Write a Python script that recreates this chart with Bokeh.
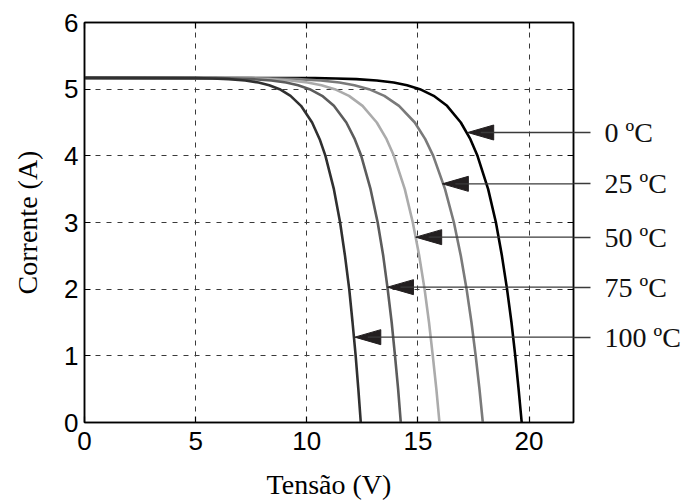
from bokeh.plotting import figure
from bokeh.models import Range1d, LinearAxis, FixedTicker, Arrow
from bokeh.embed import file_html
from bokeh.resources import INLINE

# ---- data ----
temps = ["0 ºC", "25 ºC", "50 ºC", "75 ºC", "100 ºC"]
current = [5.17, 5.165, 5.16, 5.15, 5.13, 5.10, 5.06, 5.00, 4.90, 4.75, 4.50,
           4.25, 4.00, 3.50, 3.00, 2.50, 2.00, 1.50, 1.00, 0.50, 0.00]
v_0 = [0, 10.37, 11.30, 12.23, 13.15, 13.91, 14.51, 15.09, 15.71, 16.31, 16.93,
       17.36, 17.68, 18.16, 18.51, 18.78, 19.01, 19.21, 19.38, 19.53, 19.67]
v_25 = [0, 7.51, 8.55, 9.59, 10.63, 11.47, 12.14, 12.80, 13.49, 14.15, 14.86,
        15.33, 15.69, 16.22, 16.62, 16.93, 17.19, 17.41, 17.60, 17.77, 17.92]
v_50 = [0, 6.39, 7.35, 8.30, 9.26, 10.03, 10.66, 11.26, 11.90, 12.51, 13.15,
        13.59, 13.92, 14.41, 14.77, 15.06, 15.30, 15.50, 15.67, 15.83, 15.97]
v_75 = [0, 5.90, 6.73, 7.56, 8.40, 9.07, 9.61, 10.13, 10.69, 11.22, 11.78,
        12.16, 12.45, 12.87, 13.19, 13.44, 13.64, 13.82, 13.97, 14.11, 14.23]
v_100 = [0, 5.00, 5.74, 6.49, 7.23, 7.83, 8.31, 8.78, 9.27, 9.74, 10.24,
         10.58, 10.84, 11.22, 11.50, 11.72, 11.91, 12.06, 12.20, 12.32, 12.43]
voltages = [v_0, v_25, v_50, v_75, v_100]
colors = ["#000000", "#7a7a7a", "#ababab", "#5c5c5c", "#303030"]

# annotation arrows: current level and voltage at arrow tip
arrow_i = [4.35, 3.58, 2.78, 2.03, 1.28]
arrow_v = [17.24, 16.10, 14.90, 13.63, 12.16]

x_ticks = [0, 5, 10, 15, 20]
y_ticks = [0, 1, 2, 3, 4, 5, 6]

W, H = 696, 503
FL, FR, FT, FB = 84, 573, 22, 422
p = figure(width=W, height=H, output_backend="svg", toolbar_location=None,
           x_range=Range1d(0, 22), y_range=Range1d(0, 6),
           min_border_left=FL, min_border_right=W - FR,
           min_border_top=FT, min_border_bottom=H - FB)
p.background_fill_color = "white"
p.border_fill_color = "white"
p.outline_line_color = "black"
p.outline_line_width = 1.5

for ax, ticks in ((p.xaxis[0], x_ticks), (p.yaxis[0], y_ticks)):
    ax.ticker = FixedTicker(ticks=ticks)
    ax.major_label_text_font = "Liberation Sans"
    ax.major_label_text_font_size = "26px"
    ax.major_label_text_color = "black"
    ax.axis_label_text_font = "Liberation Serif"
    ax.axis_label_text_font_size = "28px"
    ax.axis_label_text_font_style = "normal"
    ax.axis_label_text_color = "black"
    ax.major_tick_in = 6
    ax.major_tick_out = 0
    ax.minor_tick_line_color = None
    ax.axis_line_width = 1.5
    ax.major_tick_line_width = 1.2

p.xaxis[0].axis_label = "Tensão (V)"
p.yaxis[0].axis_label = "Corrente (A)"
p.xaxis[0].major_label_standoff = 9
p.yaxis[0].major_label_standoff = 6
p.xaxis[0].axis_label_standoff = 16
p.yaxis[0].axis_label_standoff = 18

# top axis: only inward ticks
top = LinearAxis(ticker=FixedTicker(ticks=[], minor_ticks=x_ticks),
                 minor_tick_in=6, minor_tick_out=0, minor_tick_line_width=1.2,
                 major_tick_line_color=None, axis_line_width=1.5)
p.add_layout(top, "above")

# right axis: inward grid ticks (minor) + arrow lines leaving the frame with their labels (major)
right = LinearAxis(ticker=FixedTicker(ticks=arrow_i, minor_ticks=y_ticks),
                   minor_tick_in=6, minor_tick_out=0, minor_tick_line_width=1.2,
                   minor_tick_line_color="black",
                   major_tick_in=0, major_tick_out=17,
                   major_tick_line_color="#3a3a3a", major_tick_line_width=1.3,
                   major_label_overrides={v: t for v, t in zip(arrow_i, temps)},
                   major_label_text_font="Liberation Serif",
                   major_label_text_font_size="28px",
                   major_label_text_color="#111111",
                   major_label_standoff=14, axis_line_width=1.5)
p.add_layout(right, "right")

p.xgrid.ticker = FixedTicker(ticks=x_ticks)
p.ygrid.ticker = FixedTicker(ticks=y_ticks)
for g in (p.xgrid[0], p.ygrid[0]):
    g.grid_line_color = "#3a3a3a"
    g.grid_line_dash = "5 6"
    g.grid_line_width = 1

for v, c in zip(voltages, colors):
    p.line(v, current, line_color=c, line_width=2.6)

# arrow heads (filled triangles) and shafts inside the frame
px_per_v = (FR - FL) / 22.0
px_per_a = (FB - FT) / 6.0
head_len = 26 / px_per_v
head_half = 7.5 / px_per_a

xs, ys = [], []
for vi, ii in zip(arrow_v, arrow_i):
    xs.append([vi, vi + head_len, vi + head_len])
    ys.append([ii, ii + head_half, ii - head_half])
p.patches(xs, ys, fill_color="#231f20", line_color="#231f20", line_width=1)

for vi, ii in zip(arrow_v, arrow_i):
    p.add_layout(Arrow(end=None, x_start=22, y_start=ii, x_end=vi + head_len * 0.5,
                       y_end=ii, line_color="#3a3a3a", line_width=1.3))

open("out.html", "w").write(file_html(p, INLINE))
